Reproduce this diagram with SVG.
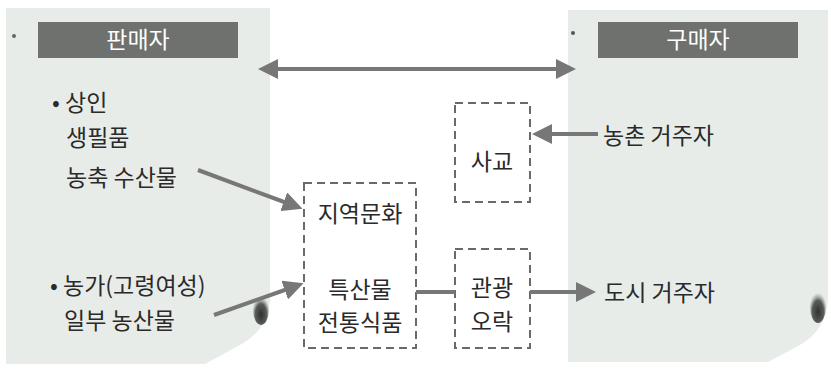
<svg xmlns="http://www.w3.org/2000/svg" width="831" height="370" viewBox="0 0 831 370">
<defs>
<style>
.t{font-family:"Noto Sans CJK KR","Noto Sans",sans-serif;font-size:23px;fill:#2a2a2a}
.h{font-family:"Noto Sans CJK KR","Noto Sans",sans-serif;font-size:23px;fill:#ffffff}
.box{fill:none;stroke:#6a6a6a;stroke-width:2;stroke-dasharray:8,5}
.ln{stroke:#777;stroke-width:4;fill:none}
.panel{fill:#e8ece8}
</style>
<marker id="ah" markerWidth="5" markerHeight="5" refX="3" refY="2.5" orient="auto" markerUnits="strokeWidth">
<path d="M0,0 L5,2.5 L0,5 Z" fill="#777"/>
</marker>
<marker id="ahs" markerWidth="5" markerHeight="5" refX="2" refY="2.5" orient="auto-start-reverse" markerUnits="strokeWidth">
<path d="M0,0 L5,2.5 L0,5 Z" fill="#777"/>
</marker>
<radialGradient id="curl" cx="0.5" cy="0.65" r="0.6">
<stop offset="0" stop-color="#2e312e"/>
<stop offset="0.6" stop-color="#5a5e5a"/>
<stop offset="1" stop-color="#9aa09a" stop-opacity="0"/>
</radialGradient>
</defs>
<rect width="831" height="370" fill="#ffffff"/>
<g id="panel-left">
<path class="panel" d="M6,8 H270 V300 Q268,330 240,345 L205,364 H6 Z"/>
<ellipse cx="261" cy="310" rx="8" ry="15" fill="url(#curl)"/>
<circle cx="14" cy="36" r="2" fill="#666"/>
</g>
<g id="panel-right">
<path class="panel" d="M568,10 H828 V300 Q826,330 800,345 L768,362 H568 Z"/>
<ellipse cx="818" cy="307" rx="8" ry="16" fill="url(#curl)"/>
<circle cx="573" cy="33" r="2" fill="#555"/>
</g>
<g id="seller-header">
<rect x="38" y="22" width="200" height="36" fill="#6f716f"/>
<text class="h" x="138" y="48" text-anchor="middle">판매자</text>
</g>
<g id="buyer-header">
<rect x="598" y="22" width="200" height="36" fill="#6f716f"/>
<text class="h" x="698" y="48" text-anchor="middle">구매자</text>
</g>
<g id="seller-merchant">
<text class="t" x="52" y="111">• 상인</text>
<text class="t" x="66" y="146">생필품</text>
<text class="t" x="66" y="186">농축 수산물</text>
</g>
<g id="seller-farmer">
<text class="t" x="50" y="294">• 농가(고령여성)</text>
<text class="t" x="64" y="329">일부 농산물</text>
</g>
<g id="box-culture">
<rect class="box" x="304" y="183" width="112" height="165"/>
<text class="t" x="360" y="222" text-anchor="middle">지역문화</text>
<text class="t" x="360" y="298" text-anchor="middle">특산물</text>
<text class="t" x="360" y="331" text-anchor="middle">전통식품</text>
</g>
<g id="box-social">
<rect class="box" x="455" y="103" width="75" height="99"/>
<text class="t" x="492" y="170" text-anchor="middle">사교</text>
</g>
<g id="box-tour">
<rect class="box" x="455" y="249" width="75" height="99"/>
<text class="t" x="492" y="296" text-anchor="middle">관광</text>
<text class="t" x="492" y="330" text-anchor="middle">오락</text>
</g>
<g id="rural">
<text class="t" x="603" y="144">농촌 거주자</text>
</g>
<g id="urban">
<text class="t" x="604" y="301">도시 거주자</text>
</g>
<g id="connectors">
<line class="ln" x1="270" y1="69" x2="568" y2="69" marker-start="url(#ahs)" marker-end="url(#ah)"/>
<line class="ln" x1="198" y1="170" x2="295" y2="206" marker-end="url(#ah)"/>
<line class="ln" x1="214" y1="315" x2="296" y2="286" marker-end="url(#ah)"/>
<line class="ln" x1="598" y1="134" x2="540" y2="134" marker-end="url(#ah)"/>
<line class="ln" x1="416" y1="292" x2="455" y2="292"/>
<line class="ln" x1="530" y1="292" x2="588" y2="292" marker-end="url(#ah)"/>
</g>
</svg>
